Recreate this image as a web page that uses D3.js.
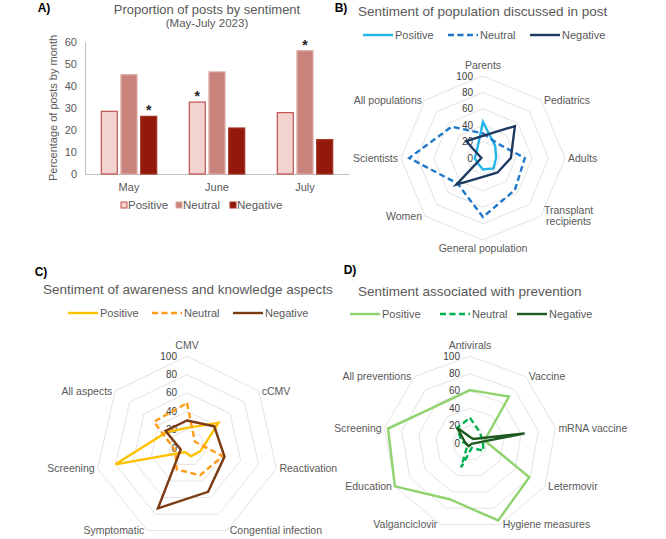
<!DOCTYPE html>
<html>
<head>
<meta charset="utf-8">
<script src="https://cdn.jsdelivr.net/npm/d3@7"></script>
<style>
  body { margin: 0; background: #fff; }
  svg text { font-family: "Liberation Sans", Arial, sans-serif; }
</style>
</head>
<body>
<svg id="chart" width="666" height="539"></svg>
<script>
// ---- data ----
const months = ['May', 'June', 'July'];
const sentiments = ['Positive', 'Neutral', 'Negative'];
const postsPositive = [28.5, 32.7, 27.9];
const postsNeutral = [45.1, 46.4, 56.0];
const postsNegative = [26.2, 20.9, 15.6];
// sentiment marked with an asterisk in each month
const starredSentiment = ['Negative', 'Positive', 'Neutral'];
const barTicks = [0, 10, 20, 30, 40, 50, 60];

const populationAxes = ['Parents', 'Pediatrics', 'Adults', 'Transplant recipients', 'General population', 'Women', 'Scientists', 'All populations'];
const populationPositive = [44, 21, 16, 18, 14, 9, 10, 11];
const populationNeutral = [30, 25, 51, 55, 72, 44, 90, 54];
const populationNegative = [27, 55, 34, 25, 23, 46, 2, 29];

const awarenessAxes = ['CMV', 'cCMV', 'Reactivation', 'Congential infection', 'Symptomatic', 'Screening', 'All aspects'];
const awarenessPositive = [22, 44, 15, 10, 5, 80, 28];
const awarenessNeutral = [49, 11, 40, 33, 26, 13, 46];
const awarenessNegative = [30, 38, 42, 53, 73, 7, 30];

const preventionAxes = ['Antivirals', 'Vaccine', 'mRNA vaccine', 'Letermovir', 'Hygiene measures', 'Valganciclovir', 'Education', 'Screening', 'All preventions'];
const preventionPositive = [61, 70, 17, 79, 95, 69, 100, 96, 57];
const preventionNeutral = [29, 17, 15, 18, 6, 30, 3, 10, 23];
const preventionNegative = [7, 6, 64, 2, 2, 4, 4, 6, 23];

const radarTicks = [0, 20, 40, 60, 80, 100];

const svg = d3.select('#chart');
const grey = '#595959';

const addText = (x, y, txt, size, opts = {}) =>
  svg.append('text')
    .attr('x', x).attr('y', y)
    .attr('text-anchor', opts.anchor || 'start')
    .attr('fill', opts.fill || grey)
    .style('font-size', size + 'px')
    .style('font-weight', opts.bold ? 'bold' : null)
    .text(txt);

// panel letters
addText(44, 12, 'A)', 12, { fill: '#000', bold: true, anchor: 'middle' });
addText(341, 12, 'B)', 12, { fill: '#000', bold: true, anchor: 'middle' });
addText(41, 276, 'C)', 12, { fill: '#000', bold: true, anchor: 'middle' });
addText(350, 274, 'D)', 12, { fill: '#000', bold: true, anchor: 'middle' });

// ===================== A) BAR CHART ===================== //
const bar = { left: 85, right: 349, top: 42, bottom: 174, group: 55.4 };
const barFill = { Positive: '#f2d3d0', Neutral: '#c9837d', Negative: '#931a0a' };
const barStroke = { Positive: '#c0504d', Neutral: '#dba6a1', Negative: '#a2301f' };
const postsBySentiment = { Positive: postsPositive, Neutral: postsNeutral, Negative: postsNegative };

const x0 = d3.scaleBand().domain(months).range([bar.left, bar.right]);
const x1 = d3.scaleBand().domain(sentiments).range([0, bar.group]).paddingInner(0.19);
const groupOffset = (x0.bandwidth() - bar.group) / 2;
const y = d3.scaleLinear().domain([0, 60]).range([bar.bottom, bar.top]);

svg.append('g')
  .attr('transform', `translate(${bar.left},0)`)
  .call(d3.axisLeft(y).tickValues(barTicks).tickSize(0).tickPadding(8))
  .call((g) => g.select('.domain').attr('stroke', '#bfbfbf'))
  .call((g) => g.selectAll('text').attr('fill', grey).style('font-size', '11px'));

svg.append('g')
  .attr('transform', `translate(0,${bar.bottom})`)
  .call(d3.axisBottom(x0).tickSize(0).tickPadding(9))
  .call((g) => g.select('.domain').attr('stroke', '#bfbfbf'))
  .call((g) => g.selectAll('text').attr('fill', grey).style('font-size', '11px'));

const barData = [];
months.forEach((m, i) => {
  sentiments.forEach((s) => {
    barData.push({ month: m, sentiment: s, value: postsBySentiment[s][i], star: starredSentiment[i] === s });
  });
});

const barX = (d) => x0(d.month) + groupOffset + x1(d.sentiment);

svg.append('g').selectAll('rect')
  .data(barData)
  .join('rect')
  .attr('x', barX)
  .attr('y', (d) => y(d.value))
  .attr('width', x1.bandwidth())
  .attr('height', (d) => y(0) - y(d.value))
  .attr('fill', (d) => barFill[d.sentiment])
  .attr('stroke', (d) => barStroke[d.sentiment])
  .attr('stroke-width', 1.2);

svg.append('g').selectAll('text')
  .data(barData.filter((d) => d.star))
  .join('text')
  .attr('x', (d) => barX(d) + x1.bandwidth() / 2)
  .attr('y', (d) => y(d.value) - 1)
  .attr('text-anchor', 'middle')
  .style('font-size', '14px')
  .style('font-weight', 'bold')
  .attr('fill', '#222')
  .text('*');

// y axis title
svg.append('text')
  .attr('transform', 'translate(57,108) rotate(-90)')
  .attr('text-anchor', 'middle')
  .attr('fill', grey)
  .style('font-size', '11px')
  .text('Percentage of posts by month');

addText(207, 14, 'Proportion of posts by sentiment', 13, { anchor: 'middle' });
addText(207, 27, '(May-July 2023)', 11.5, { anchor: 'middle' });

// bar legend
const barLegendX = [121, 176, 230];
sentiments.forEach((s, i) => {
  svg.append('rect')
    .attr('x', barLegendX[i]).attr('y', 202)
    .attr('width', 6).attr('height', 6)
    .attr('fill', barFill[s])
    .attr('stroke', barStroke[s]).attr('stroke-width', 1);
  addText(barLegendX[i] + 7, 209, s, 11.5);
});

// ===================== RADAR CHARTS ===================== //
function drawRadar({ cx, cy, radius, axes, series, wrap = {} }) {
  const n = axes.length;
  const r = d3.scaleLinear().domain([0, 100]).range([0, radius]);
  const angle = (i) => (i * 2 * Math.PI) / n;
  const g = svg.append('g').attr('transform', `translate(${cx},${cy})`);

  // grid rings
  const ring = (t) => d3.lineRadial()
    .angle((d, i) => angle(i))
    .radius(r(t))
    .curve(d3.curveLinearClosed)(axes);
  g.selectAll('.ring')
    .data(radarTicks.filter((t) => t > 0))
    .join('path')
    .attr('class', 'ring')
    .attr('d', ring)
    .attr('fill', 'none')
    .attr('stroke', '#dcdcdc')
    .attr('stroke-width', 0.8);

  // value labels along the first axis
  g.selectAll('.rtick')
    .data(radarTicks)
    .join('text')
    .attr('class', 'rtick')
    .attr('x', -10)
    .attr('y', (t) => -r(t))
    .attr('dy', '0.35em')
    .attr('text-anchor', 'end')
    .attr('fill', '#404040')
    .style('font-size', '10px')
    .text((t) => t);

  const line = d3.lineRadial()
    .angle((d, i) => angle(i))
    .radius((d) => r(d))
    .curve(d3.curveLinearClosed);

  g.selectAll('.series')
    .data(series)
    .join('path')
    .attr('class', 'series')
    .attr('d', (s) => line(s.values))
    .attr('fill', 'none')
    .attr('stroke', (s) => s.color)
    .attr('stroke-width', 2.4)
    .attr('stroke-linejoin', 'miter')
    .attr('stroke-dasharray', (s) => (s.dash ? '6,3.5' : null));

  // category labels sit just beside the outer ring's corners
  axes.forEach((name, i) => {
    const a = angle(i);
    const sx = Math.sin(a);
    const sy = -Math.cos(a);
    const side = Math.abs(sx) > 0.1;
    const anchor = sx > 0.1 ? 'start' : sx < -0.1 ? 'end' : 'middle';
    const px = radius * sx + (side ? Math.sign(sx) * 3 : 0);
    const py = radius * sy + (side ? 0 : sy < 0 ? -10.5 : 8);
    const lines = wrap[name] || [name];
    const lh = 11.5;
    const t = g.append('text')
      .attr('fill', grey)
      .style('font-size', '10.5px');
    lines.forEach((ln, k) => {
      t.append('tspan')
        .attr('x', px)
        .attr('y', py + (k - (lines.length - 1) / 2) * lh)
        .attr('dy', '0.35em')
        .text(ln);
    });
    if (lines.length > 1) {
      // centre the wrapped lines on the block like Excel does
      const w = d3.max(t.selectAll('tspan').nodes(), (nd) => nd.getComputedTextLength());
      const mid = anchor === 'start' ? px + w / 2 : anchor === 'end' ? px - w / 2 : px;
      t.attr('text-anchor', 'middle').selectAll('tspan').attr('x', mid);
    } else {
      t.attr('text-anchor', anchor);
    }
  });
}

function drawLegend(y, xs, series) {
  series.forEach((s, i) => {
    svg.append('line')
      .attr('x1', xs[i]).attr('x2', xs[i] + 30)
      .attr('y1', y).attr('y2', y)
      .attr('stroke', s.color)
      .attr('stroke-width', 2.4)
      .attr('stroke-dasharray', s.dash ? '6,3.5' : null);
    addText(xs[i] + 32, y + 4, s.name, 11);
  });
}

// ---- B) population ----
const populationSeries = [
  { name: 'Positive', values: populationPositive, color: '#22b4ea' },
  { name: 'Neutral', values: populationNeutral, color: '#1f78c8', dash: true },
  { name: 'Negative', values: populationNegative, color: '#1f3a60' },
];
addText(358, 16, 'Sentiment of population discussed in post', 13.5);
drawLegend(35, [363, 448, 530], populationSeries);
drawRadar({
  cx: 483, cy: 158, radius: 82,
  axes: populationAxes,
  series: populationSeries,
  wrap: { 'Transplant recipients': ['Transplant', 'recipients'] },
});

// ---- C) awareness ----
const awarenessSeries = [
  { name: 'Positive', values: awarenessPositive, color: '#ffc000' },
  { name: 'Neutral', values: awarenessNeutral, color: '#ff9a17', dash: true },
  { name: 'Negative', values: awarenessNegative, color: '#7b3a12' },
];
addText(43, 294, 'Sentiment of awareness and knowledge aspects', 13.5);
drawLegend(313, [68, 152, 233], awarenessSeries);
drawRadar({
  cx: 187, cy: 448, radius: 91.7,
  axes: awarenessAxes,
  series: awarenessSeries,
});

// ---- D) prevention ----
const preventionSeries = [
  { name: 'Positive', values: preventionPositive, color: '#8ed36e' },
  { name: 'Neutral', values: preventionNeutral, color: '#00b050', dash: true },
  { name: 'Negative', values: preventionNegative, color: '#1e5a20' },
];
addText(358, 296, 'Sentiment associated with prevention', 13.5);
drawLegend(314, [350, 440, 517], preventionSeries);
drawRadar({
  cx: 470, cy: 443, radius: 86.7,
  axes: preventionAxes,
  series: preventionSeries,
});
</script>
</body>
</html>
